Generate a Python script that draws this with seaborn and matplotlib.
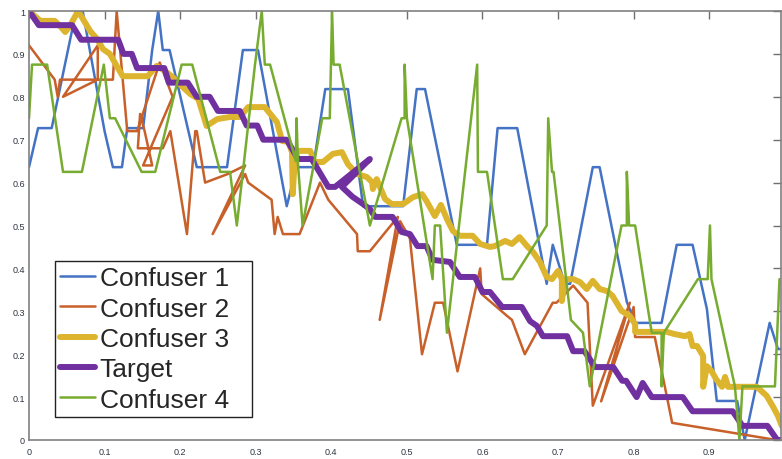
import matplotlib
matplotlib.use("Agg")
import matplotlib.pyplot as plt
import seaborn as sns
import pandas as pd

# ---- data ----
c1_x = [0, 0.012, 0.03, 0.057, 0.062, 0.071, 0.1, 0.111, 0.123, 0.13, 0.151, 0.163, 0.171, 0.177,
        0.186, 0.222, 0.262, 0.283, 0.303, 0.341, 0.354, 0.376, 0.392, 0.422, 0.442, 0.495, 0.513,
        0.524, 0.566, 0.606, 0.62, 0.646, 0.685, 0.693, 0.709, 0.716, 0.746, 0.755, 0.791, 0.802,
        0.837, 0.857, 0.878, 0.897, 0.91, 0.937, 0.947, 0.98, 0.991, 0.996]
c1_y = [0.636, 0.727, 0.727, 0.955, 1.0, 1.0, 0.72, 0.636, 0.636, 0.727, 0.727, 0.909, 1.0, 0.909,
        0.909, 0.636, 0.636, 0.909, 0.909, 0.545, 0.636, 0.636, 0.818, 0.818, 0.545, 0.545, 0.818,
        0.818, 0.455, 0.455, 0.727, 0.727, 0.364, 0.455, 0.364, 0.364, 0.636, 0.636, 0.322, 0.273,
        0.273, 0.455, 0.455, 0.305, 0.091, 0.091, 0.0, 0.273, 0.212, 0.212]

c2_x = [0, 0.034, 0.038, 0.041, 0.091, 0.091, 0.045, 0.091, 0.111, 0.116, 0.13, 0.143, 0.173,
        0.19, 0.151, 0.163, 0.153, 0.147, 0.144, 0.177, 0.187, 0.209, 0.22, 0.222, 0.233, 0.263,
        0.286, 0.243, 0.286, 0.29, 0.321, 0.325, 0.329, 0.336, 0.358, 0.385, 0.396, 0.434, 0.435,
        0.451, 0.488, 0.464, 0.491, 0.504, 0.52, 0.537, 0.548, 0.567, 0.597, 0.599, 0.632, 0.639,
        0.656, 0.693, 0.698, 0.72, 0.739, 0.746, 0.795, 0.757, 0.8, 0.802, 0.828, 0.851, 0.989, 0.996]
c2_y = [0.92, 0.84, 0.80, 0.84, 0.84, 0.92, 0.80, 0.84, 0.84, 1.0, 0.72, 0.72, 0.88,
        0.80, 0.64, 0.64, 0.72, 0.76, 0.68, 0.68, 0.72, 0.48, 0.72, 0.72, 0.60, 0.62,
        0.64, 0.48, 0.62, 0.60, 0.56, 0.48, 0.52, 0.48, 0.48, 0.60, 0.56, 0.48, 0.44,
        0.44, 0.52, 0.28, 0.51, 0.47, 0.20, 0.32, 0.32, 0.16, 0.40, 0.34, 0.29, 0.28,
        0.20, 0.32, 0.32, 0.36, 0.32, 0.08, 0.32, 0.09, 0.31, 0.24, 0.24, 0.04, 0.0, 0.0]

c3_x = [0, 0.015, 0.034, 0.041, 0.048, 0.054, 0.065, 0.081, 0.09, 0.098, 0.107, 0.116, 0.124,
        0.157, 0.169, 0.18, 0.19, 0.202, 0.213, 0.224, 0.235, 0.249, 0.266, 0.279, 0.29, 0.305,
        0.312, 0.328, 0.335, 0.343, 0.348, 0.349, 0.352, 0.358, 0.372, 0.378, 0.389, 0.402, 0.414,
        0.422, 0.434, 0.447, 0.454, 0.455, 0.46, 0.471, 0.48, 0.495, 0.508, 0.52, 0.526, 0.537,
        0.545, 0.553, 0.561, 0.57, 0.587, 0.597, 0.61, 0.616, 0.63, 0.639, 0.649, 0.659, 0.667,
        0.676, 0.685, 0.692, 0.7, 0.705, 0.705, 0.709, 0.72, 0.729, 0.738, 0.746, 0.755, 0.765,
        0.772, 0.784, 0.795, 0.802, 0.802, 0.844, 0.854, 0.868, 0.874, 0.878, 0.884, 0.892, 0.892,
        0.897, 0.903, 0.909, 0.917, 0.921, 0.925, 0.963, 0.976, 0.984, 0.991, 0.996]
c3_y = [1.0, 0.977, 0.977, 0.965, 0.951, 0.965, 1.0, 0.953, 0.935, 0.911, 0.9, 0.872, 0.848,
        0.848, 0.872, 0.86, 0.846, 0.825, 0.807, 0.795, 0.732, 0.748, 0.753, 0.753, 0.776, 0.776,
        0.776, 0.741, 0.697, 0.695, 0.671, 0.573, 0.667, 0.674, 0.674, 0.648, 0.648, 0.667, 0.671,
        0.643, 0.62, 0.613, 0.601, 0.585, 0.608, 0.562, 0.55, 0.55, 0.566, 0.573, 0.557, 0.522,
        0.548, 0.515, 0.487, 0.476, 0.476, 0.457, 0.45, 0.452, 0.464, 0.457, 0.473, 0.452, 0.438,
        0.415, 0.38, 0.375, 0.394, 0.375, 0.324, 0.375, 0.375, 0.368, 0.352, 0.371, 0.352, 0.347,
        0.336, 0.301, 0.289, 0.27, 0.252, 0.252, 0.247, 0.242, 0.247, 0.219, 0.219, 0.196, 0.124,
        0.172, 0.161, 0.142, 0.124, 0.147, 0.124, 0.124, 0.103, 0.079, 0.056, 0.033]

tg_x = [0, 0.013, 0.057, 0.069, 0.118, 0.125, 0.136, 0.143, 0.179, 0.185, 0.21, 0.222, 0.239,
        0.25, 0.279, 0.288, 0.302, 0.31, 0.341, 0.356, 0.374, 0.396, 0.405, 0.451, 0.414, 0.428,
        0.442, 0.451, 0.458, 0.481, 0.493, 0.504, 0.514, 0.526, 0.534, 0.557, 0.57, 0.59, 0.6,
        0.61, 0.626, 0.652, 0.663, 0.672, 0.68, 0.712, 0.72, 0.735, 0.749, 0.773, 0.785, 0.79,
        0.804, 0.812, 0.824, 0.865, 0.878, 0.931, 0.944, 0.977, 0.99, 1.0]
tg_y = [1.0, 0.967, 0.967, 0.933, 0.933, 0.9, 0.9, 0.867, 0.867, 0.833, 0.833, 0.8, 0.8,
        0.767, 0.767, 0.733, 0.733, 0.7, 0.7, 0.655, 0.655, 0.59, 0.59, 0.655, 0.59, 0.567,
        0.55, 0.538, 0.52, 0.52, 0.485, 0.48, 0.452, 0.452, 0.42, 0.415, 0.38, 0.38, 0.345,
        0.345, 0.31, 0.31, 0.277, 0.266, 0.242, 0.242, 0.207, 0.207, 0.17, 0.17, 0.138, 0.138,
        0.1, 0.133, 0.1, 0.1, 0.067, 0.067, 0.033, 0.033, 0.0, 0.0]

c4_x = [0, 0.004, 0.024, 0.045, 0.07, 0.099, 0.107, 0.114, 0.149, 0.167, 0.202, 0.216, 0.253,
        0.266, 0.275, 0.299, 0.308, 0.312, 0.319, 0.353, 0.354, 0.356, 0.362, 0.388, 0.398, 0.401,
        0.403, 0.411, 0.451, 0.493, 0.497, 0.497, 0.5, 0.534, 0.537, 0.544, 0.553, 0.593, 0.594,
        0.606, 0.627, 0.64, 0.685, 0.687, 0.692, 0.694, 0.717, 0.733, 0.742, 0.784, 0.791, 0.791,
        0.794, 0.802, 0.819, 0.824, 0.837, 0.837, 0.84, 0.885, 0.898, 0.901, 0.903, 0.934, 0.94,
        0.944, 0.987, 0.993]
c4_y = [0.75, 0.875, 0.875, 0.625, 0.625, 0.875, 0.75, 0.75, 0.625, 0.625, 0.875, 0.875, 0.625,
        0.625, 0.5, 0.875, 1.0, 0.875, 0.875, 0.65, 0.75, 0.64, 0.5, 0.75, 0.75, 1.0,
        0.875, 0.875, 0.5, 0.75, 0.75, 0.875, 0.75, 0.375, 0.5, 0.5, 0.25, 0.875, 0.625,
        0.625, 0.375, 0.375, 0.5, 0.75, 0.625, 0.625, 0.28, 0.25, 0.125, 0.5, 0.5, 0.625,
        0.5, 0.5, 0.305, 0.25, 0.25, 0.125, 0.25, 0.375, 0.375, 0.5, 0.375, 0.125, 0.0,
        0.125, 0.125, 0.375]

series = [
    ("Confuser 1", c1_x, c1_y, "#4472C4", 1.8),
    ("Confuser 2", c2_x, c2_y, "#C8602A", 1.8),
    ("Confuser 3", c3_x, c3_y, "#DDB42E", 4.3),
    ("Target", tg_x, tg_y, "#7030A0", 4.3),
    ("Confuser 4", c4_x, c4_y, "#77AC30", 1.8),
]

sns.set_style("white")
plt.rcParams["font.family"] = ["Liberation Sans", "DejaVu Sans"]

fig = plt.figure(figsize=(7.82, 4.6), dpi=100)
ax = fig.add_axes([29 / 782, 19 / 460, 752 / 782, 429 / 460])

for name, xs, ys, col, lw in series:
    df = pd.DataFrame({"x": xs, "y": ys})
    sns.lineplot(data=df, x="x", y="y", sort=False, estimator=None, color=col,
                 linewidth=lw, label=name, ax=ax)

ax.set_xlim(0, 0.995)
ax.set_ylim(0, 1)
ax.set_xlabel("")
ax.set_ylabel("")

xt = [0, 0.1, 0.2, 0.3, 0.4, 0.5, 0.6, 0.7, 0.8, 0.9]
yt = [0, 0.1, 0.2, 0.3, 0.4, 0.5, 0.6, 0.7, 0.8, 0.9, 1]
ax.set_xticks(xt)
ax.set_xticklabels(["0"] + [f"{v:g}" for v in xt[1:]])
ax.set_yticks(yt)
ax.set_yticklabels(["0"] + [f"{v:g}" for v in yt[1:]])
ax.tick_params(direction="in", length=5.5, width=1, color="#707070",
               top=True, right=True, labelsize=6.5, labelcolor="#2e3440")
ax.tick_params(axis="x", pad=5)
ax.tick_params(axis="y", pad=3)
for s in ax.spines.values():
    s.set_color("#808080")
    s.set_linewidth(1.2)

# legend box spans roughly x 0.035..0.296, y 0.054..0.425 of the axes
leg = ax.legend(loc="lower left", bbox_to_anchor=(0.0345, 0.0536, 0.2616, 0.37),
                mode="expand", borderaxespad=0,
                fontsize=19, frameon=True, fancybox=False, framealpha=1,
                edgecolor="#222222", handlelength=1.3, handletextpad=0.2,
                labelspacing=0.24, borderpad=0.2)
leg.get_frame().set_linewidth(1.0)

fig.savefig("out.png", dpi=100)
